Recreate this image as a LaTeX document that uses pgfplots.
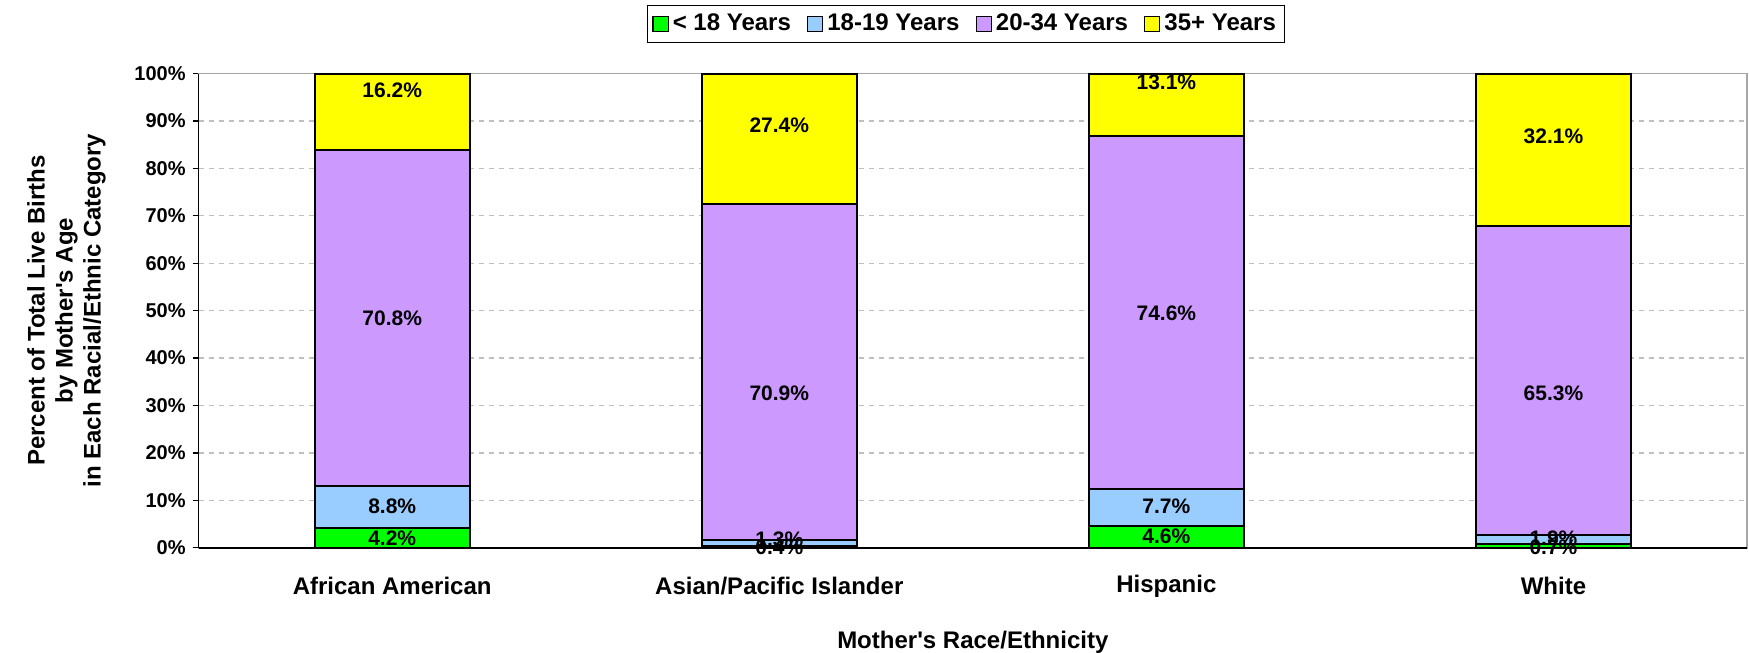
\documentclass[border=0pt]{standalone}
\usepackage{pgfplots}
\pgfplotsset{compat=1.18}
\usepackage{fontspec}
\setmainfont{Liberation Sans}
\definecolor{cgreen}{HTML}{00FF00}
\definecolor{cblue}{HTML}{99CCFF}
\definecolor{cpurple}{HTML}{CC99FF}
\definecolor{cyellow}{HTML}{FFFF00}
\begin{document}
\begin{tikzpicture}
\useasboundingbox (-99.3pt,-52.2pt) rectangle (775pt,273.8pt);
\begin{axis}[
  scale only axis, width=774pt, height=237pt,
  ybar stacked, bar width=0.4,
  xmin=-0.5, xmax=3.5, ymin=0, ymax=100,
  xtick={0,1,2,3},
  xticklabels={African American, Asian/Pacific Islander, Hispanic, White},
  xticklabel style={anchor=center, yshift=-16.3pt, font=\bfseries\fontsize{12}{14}\selectfont},
  major x tick style={draw=none},
  ytick={0,10,...,100},
  yticklabel={\pgfmathprintnumber{\tick}\%},
  /pgf/number format/assume math mode=true,
  yticklabel style={font=\bfseries\fontsize{10}{12}\selectfont},
  tick align=outside, ytick pos=left, xtick pos=bottom,
  major tick length=3pt,
  tick style={black, line width=0.6pt},
  ymajorgrids,
  major grid style={gray!50, dash pattern=on 2.5pt off 2.5pt, line width=0.6pt},
  axis line style={gray!70, line width=0.8pt},
  extra x ticks={-0.5}, extra x tick labels={},
  extra x tick style={grid=major, major grid style={black, solid, line width=0.8pt}, major tick length=0pt},
  extra y ticks={0}, extra y tick labels={},
  extra y tick style={grid=major, major grid style={black, solid, line width=0.8pt}},
  xlabel={Mother\textquotesingle s Race/Ethnicity},
  xlabel style={at={(axis description cs:0.5,-0.199)}, anchor=center, font=\bfseries\fontsize{12}{14}\selectfont},
  ylabel={Percent of Total Live Births\\by Mother\textquotesingle s Age\\in Each Racial/Ethnic Category},
  ylabel style={at={(axis description cs:-0.0853,0.5)}, anchor=center, align=center, font=\bfseries\fontsize{12}{14}\selectfont},
  legend style={at={(0.4957,1.1046)}, anchor=center, legend columns=4, draw=black, line width=0.5pt,
    font=\bfseries\fontsize{12}{14}\selectfont, inner sep=2.5pt,
    /tikz/every even column/.append style={column sep=6pt}},
  legend image code/.code={\draw[#1, line width=0.6pt] (0pt,-3.8pt) rectangle (7.6pt,3.8pt);},
]
\addplot[fill=cgreen, draw=black, line width=1pt] coordinates {(0,4.2) (1,0.4) (2,4.6) (3,0.7)};
\addplot[fill=cblue, draw=black, line width=1pt] coordinates {(0,8.8) (1,1.3) (2,7.7) (3,1.9)};
\addplot[fill=cpurple, draw=black, line width=1pt] coordinates {(0,70.8) (1,70.9) (2,74.6) (3,65.3)};
\addplot[fill=cyellow, draw=black, line width=1pt] coordinates {(0,16.2) (1,27.4) (2,13.1) (3,32.1)};
\legend{< 18 Years, 18-19 Years, 20-34 Years, 35+ Years}
\end{axis}
\begin{axis}[
  scale only axis, width=774pt, height=237pt,
  xmin=-0.5, xmax=3.5, ymin=0, ymax=100, hide axis,
]
\addplot[draw=none, mark=none, nodes near coords, point meta=explicit,
  nodes near coords={\pgfmathprintnumber[fixed, precision=1, fixed zerofill, assume math mode=true]{\pgfplotspointmeta}\%},
  nodes near coords align=center,
  every node near coord/.style={anchor=center, font=\bfseries\fontsize{10.5}{12}\selectfont, black}]
  table[meta=v] {
x y v
0 96.5 16.2
0 48.5 70.8
0 8.7 8.8
0 2.1 4.2
1 89.2 27.4
1 32.5 70.9
1 1.8 1.3
1 0.0 0.4
2 98.1 13.1
2 49.4 74.6
2 8.7 7.7
2 2.4 4.6
3 86.8 32.1
3 32.5 65.3
3 1.9 1.9
3 0.2 0.7
};
\end{axis}
\end{tikzpicture}
\end{document}
